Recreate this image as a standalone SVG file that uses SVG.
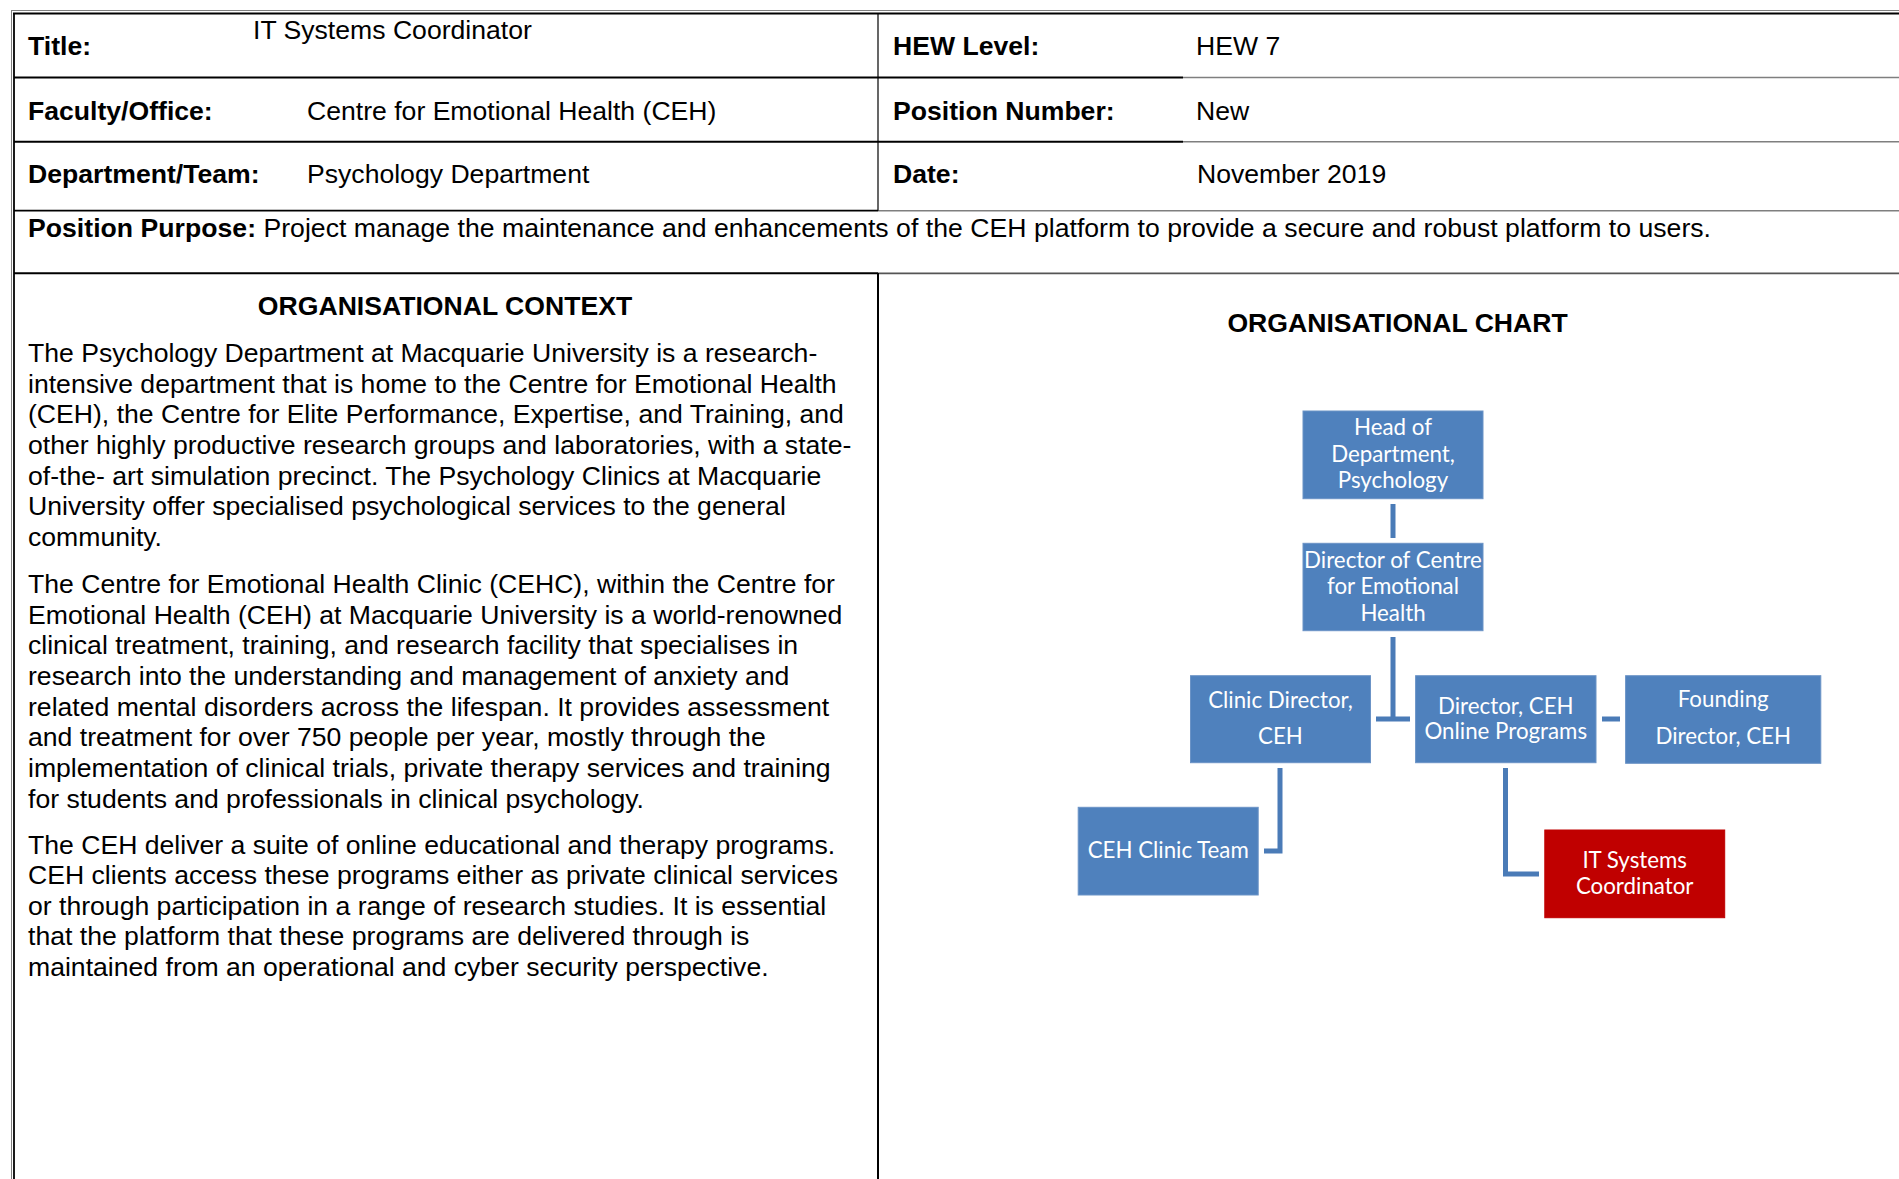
<svg xmlns="http://www.w3.org/2000/svg" width="1899" height="1179" viewBox="0 0 1899 1179">
<style>
  .t { font-family: "Liberation Sans", Arial, sans-serif; font-size: 26.6px; fill: #000; }
  .b { font-weight: bold; }
  .bl { stroke: #000; fill: none; }
  .gr { stroke: #7f7f7f; fill: none; }
  .box { fill: #4f81bd; stroke: #6b93c6; stroke-width: 1; }
  .red { fill: #c00000; stroke: #c00000; stroke-width: 1; }
  .bt { font-family: Lato, "Open Sans", sans-serif; font-size: 22.3px; fill: #fff; text-anchor: middle; }
  .conn { stroke: #4a7bb7; stroke-width: 5; fill: none; }
</style>
<rect x="0" y="0" width="1899" height="1179" fill="#fff"/>

<g id="table-lines">
  <line class="gr" x1="11" y1="10.5" x2="1899" y2="10.5" stroke-width="1"/>
  <line class="bl" x1="13" y1="13.5" x2="1899" y2="13.5" stroke-width="2"/>
  <line class="gr" x1="11.5" y1="10" x2="11.5" y2="1179" stroke-width="1"/>
  <line class="bl" x1="14" y1="13" x2="14" y2="1179" stroke-width="1.8"/>
  <line class="bl" x1="14" y1="77.5" x2="1183" y2="77.5" stroke-width="2"/>
  <line class="gr" x1="1183" y1="77.5" x2="1899" y2="77.5" stroke-width="1.5"/>
  <line class="bl" x1="14" y1="141.7" x2="1183" y2="141.7" stroke-width="2"/>
  <line class="gr" x1="1183" y1="141.7" x2="1899" y2="141.7" stroke-width="1.5"/>
  <line class="bl" x1="14" y1="210.7" x2="878" y2="210.7" stroke-width="1.8"/>
  <line class="gr" x1="878" y1="210.7" x2="1899" y2="210.7" stroke-width="1.5"/>
  <line class="bl" x1="14" y1="273.3" x2="878" y2="273.3" stroke-width="2"/>
  <line x1="878" y1="273.3" x2="1899" y2="273.3" stroke="#555" stroke-width="1.8"/>
  <line class="bl" x1="878" y1="13" x2="878" y2="210.7" stroke-width="1.2"/>
  <line class="bl" x1="878" y1="273" x2="878" y2="1179" stroke-width="2"/>
</g>

<g id="header-text">
  <text class="t b" x="28" y="55">Title:</text>
  <text class="t" x="253" y="38.5">IT Systems Coordinator</text>
  <text class="t b" x="893" y="55">HEW Level:</text>
  <text class="t" x="1196" y="55">HEW 7</text>
  <text class="t b" x="28" y="119.5">Faculty/Office:</text>
  <text class="t" x="307" y="119.5">Centre for Emotional Health (CEH)</text>
  <text class="t b" x="893" y="119.5">Position Number:</text>
  <text class="t" x="1196" y="119.5">New</text>
  <text class="t b" x="28" y="183.3">Department/Team:</text>
  <text class="t" x="307" y="183.3">Psychology Department</text>
  <text class="t b" x="893" y="183.3">Date:</text>
  <text class="t" x="1197" y="183.3">November 2019</text>
  <text class="t" x="28" y="237" textLength="1683" lengthAdjust="spacing"><tspan class="b">Position Purpose:</tspan> Project manage the maintenance and enhancements of the CEH platform to provide a secure and robust platform to users.</text>
</g>

<g id="organisational-context">
  <text class="t b" x="445" y="315" text-anchor="middle">ORGANISATIONAL CONTEXT</text>
  <text class="t" x="28" y="362">
    <tspan x="28" y="362">The Psychology Department at Macquarie University is a research-</tspan>
    <tspan x="28" y="392.65">intensive department that is home to the Centre for Emotional Health</tspan>
    <tspan x="28" y="423.3">(CEH), the Centre for Elite Performance, Expertise, and Training, and</tspan>
    <tspan x="28" y="453.95">other highly productive research groups and laboratories, with a state-</tspan>
    <tspan x="28" y="484.6">of-the- art simulation precinct. The Psychology Clinics at Macquarie</tspan>
    <tspan x="28" y="515.25">University offer specialised psychological services to the general</tspan>
    <tspan x="28" y="545.9">community.</tspan>
  </text>
  <text class="t" x="28" y="593">
    <tspan x="28" y="593">The Centre for Emotional Health Clinic (CEHC), within the Centre for</tspan>
    <tspan x="28" y="623.65">Emotional Health (CEH) at Macquarie University is a world-renowned</tspan>
    <tspan x="28" y="654.3">clinical treatment, training, and research facility that specialises in</tspan>
    <tspan x="28" y="684.95">research into the understanding and management of anxiety and</tspan>
    <tspan x="28" y="715.6">related mental disorders across the lifespan. It provides assessment</tspan>
    <tspan x="28" y="746.25">and treatment for over 750 people per year, mostly through the</tspan>
    <tspan x="28" y="776.9">implementation of clinical trials, private therapy services and training</tspan>
    <tspan x="28" y="807.55">for students and professionals in clinical psychology.</tspan>
  </text>
  <text class="t" x="28" y="853.5">
    <tspan x="28" y="853.5">The CEH deliver a suite of online educational and therapy programs.</tspan>
    <tspan x="28" y="884.15">CEH clients access these programs either as private clinical services</tspan>
    <tspan x="28" y="914.8">or through participation in a range of research studies. It is essential</tspan>
    <tspan x="28" y="945.45">that the platform that these programs are delivered through is</tspan>
    <tspan x="28" y="976.1">maintained from an operational and cyber security perspective.</tspan>
  </text>
</g>

<text class="t b" x="1397.6" y="331.5" text-anchor="middle">ORGANISATIONAL CHART</text>

<g id="connectors">
  <line class="conn" x1="1393" y1="504" x2="1393" y2="538"/>
  <path class="conn" d="M1393 637 V719 M1376 719 H1410"/>
  <line class="conn" x1="1602" y1="719" x2="1620" y2="719"/>
  <path class="conn" d="M1280 768 V851 H1264"/>
  <path class="conn" d="M1505.5 768 V874 H1539"/>
</g>

<g id="node-head">
  <rect class="box" x="1303" y="411" width="180" height="87.7"/>
  <text class="bt"><tspan x="1393" y="435">Head of</tspan><tspan x="1393" y="461.5">Department,</tspan><tspan x="1393" y="488">Psychology</tspan></text>
</g>
<g id="node-director-ceh">
  <rect class="box" x="1303" y="543.3" width="180" height="87.4"/>
  <text class="bt"><tspan x="1393" y="567.7">Director of Centre</tspan><tspan x="1393" y="594">for Emotional</tspan><tspan x="1393" y="620.7">Health</tspan></text>
</g>
<g id="node-clinic-director">
  <rect class="box" x="1190.5" y="675.7" width="180" height="87"/>
  <text class="bt"><tspan x="1280.5" y="707.7">Clinic Director,</tspan><tspan x="1280.5" y="744.3">CEH</tspan></text>
</g>
<g id="node-online-director">
  <rect class="box" x="1415.6" y="675.7" width="180.4" height="87"/>
  <text class="bt"><tspan x="1505.8" y="714">Director, CEH</tspan><tspan x="1505.8" y="739.3">Online Programs</tspan></text>
</g>
<g id="node-founding-director">
  <rect class="box" x="1625.6" y="675.7" width="195.2" height="87.6"/>
  <text class="bt"><tspan x="1723.2" y="707.3">Founding</tspan><tspan x="1723.2" y="744.3">Director, CEH</tspan></text>
</g>
<g id="node-clinic-team">
  <rect class="box" x="1078.2" y="807.3" width="180" height="87.7"/>
  <text class="bt" x="1168.2" y="858.3">CEH Clinic Team</text>
</g>
<g id="node-it-coordinator">
  <rect class="red" x="1544.8" y="830" width="179.9" height="87.7"/>
  <text class="bt"><tspan x="1634.7" y="868.3">IT Systems</tspan><tspan x="1634.7" y="894.3">Coordinator</tspan></text>
</g>
</svg>
